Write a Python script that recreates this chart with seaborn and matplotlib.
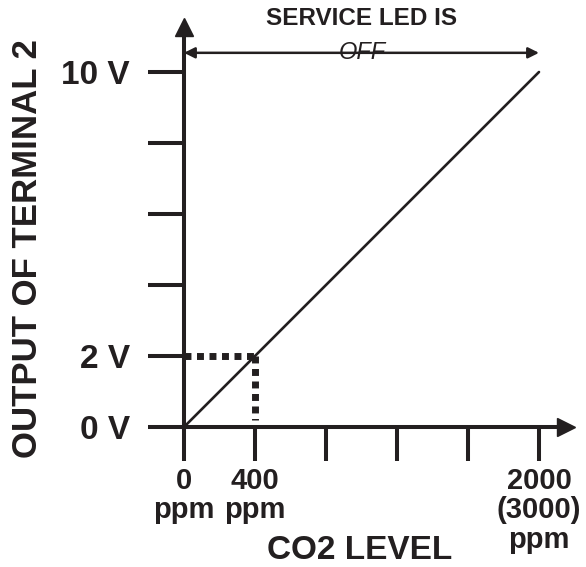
import matplotlib
matplotlib.use("Agg")
import matplotlib.pyplot as plt
import seaborn as sns
import pandas as pd

# output of terminal 2 vs CO2 level
co2_ppm = [0, 2000]
out_volts = [0, 10]

# reference point marked with dotted lines
ref_ppm = 400
ref_volts = 2

x_ticks = [0, 400, 800, 1200, 1600, 2000]
x_tick_labels = ["0\nppm", "400\nppm", "", "", "", "2000\n(3000)\nppm"]
y_ticks = [0, 2, 4, 6, 8, 10]
y_tick_labels = ["0 V", "2 V", "", "", "", "10 V"]

INK = "#231f20"

sns.set_style("white")
plt.rcParams['font.family'] = ['Liberation Sans', 'DejaVu Sans']

fig = plt.figure(figsize=(5.86, 5.67), dpi=100)
ax = fig.add_axes([0, 0, 1, 1])
ax.set_xlim(-1036.6, 2264.8)
ax.set_ylim(-3.944, 12.028)

df = pd.DataFrame({"ppm": co2_ppm, "volts": out_volts})
sns.lineplot(data=df, x="ppm", y="volts", ax=ax, color=INK, lw=1.9)

# dotted guide lines at the reference point
ax.plot([0, ref_ppm], [ref_volts, ref_volts], color=INK, lw=5,
        dashes=(1.0, 0.8), dash_capstyle='butt')
ax.plot([ref_ppm, ref_ppm], [ref_volts, 0.2], color=INK, lw=5,
        dashes=(1.0, 0.8), dash_capstyle='butt')

# axes lines through the origin, with arrow heads
for side in ("top", "right"):
    ax.spines[side].set_visible(False)
ax.spines["left"].set_position(("data", 0))
ax.spines["bottom"].set_position(("data", 0))
ax.spines["left"].set_bounds(0, 11.2)
ax.spines["bottom"].set_bounds(0, 2130)
for side in ("left", "bottom"):
    ax.spines[side].set_linewidth(2.9)
    ax.spines[side].set_color(INK)
ax.plot([2150], [0], marker=">", ms=13, color=INK, clip_on=False)
ax.plot([0], [11.28], marker="^", ms=13, color=INK, clip_on=False)

ax.set_xticks(x_ticks)
ax.set_xticklabels(x_tick_labels, fontsize=21, fontweight="bold",
                   linespacing=1.08, color=INK)
ax.set_yticks(y_ticks)
ax.set_yticklabels(y_tick_labels, fontsize=24, fontweight="bold", color=INK)
ax.tick_params(axis="x", direction="out", length=24.5, width=2.9,
               color=INK, pad=4, bottom=True)
ax.tick_params(axis="y", direction="out", length=26, width=2.9,
               color=INK, pad=13, left=True)
ax.set_xlabel("")
ax.set_ylabel("")

ax.text(-884, 5.04, "OUTPUT OF TERMINAL 2", rotation=90, ha="center",
        va="center", fontsize=25, fontweight="bold", color=INK)
ax.text(991, -3.49, "CO2 LEVEL", ha="center", va="center",
        fontsize=24, fontweight="bold", color=INK)

# service LED annotation
ax.text(1003, 11.51, "SERVICE LED IS", ha="center", va="center",
        fontsize=17.5, fontweight="bold", color=INK)
ax.annotate("", xy=(2000, 10.54), xytext=(0, 10.54),
            arrowprops=dict(arrowstyle="<|-|>", lw=1.8, color=INK,
                            mutation_scale=16, shrinkA=0, shrinkB=0))
ax.text(1003, 10.54, "OFF", ha="center", va="center", fontsize=17,
        style="italic", color=INK)

fig.savefig("out.png", dpi=100)
